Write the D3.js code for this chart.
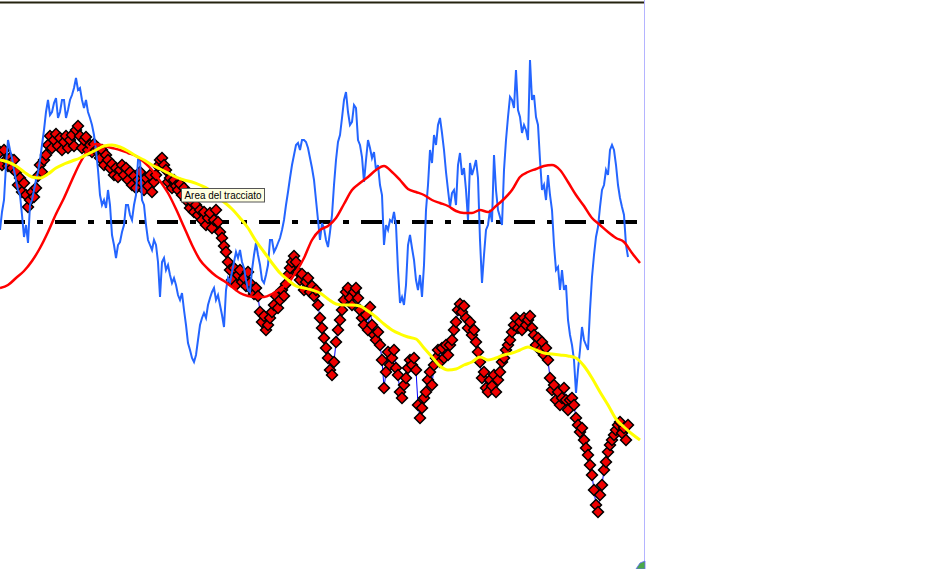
<!DOCTYPE html>
<html><head><meta charset="utf-8">
<script src="https://cdn.jsdelivr.net/npm/d3@7"></script>
<style>html,body{margin:0;padding:0;background:#fff;overflow:hidden}svg{display:block}</style>
</head><body>
<svg id="chart" width="935" height="569"></svg>
<script>
// ---- DATA (x in trading days) ----
const oscStep = 1;   // days between oscillator samples
const priceStep = 1; // days between price samples
const maStep = 4;    // days between moving-average samples
const oscRef = 0;    // oscillator reference level (dash-dot)

// oscillator (left axis units)
const oscillator = [-8,10,22,57,82,72,64,52,42,32,27,7,-15,-3,-21,17,22,32,42,50,62,77,92,110,122,107,110,119,124,104,110,122,122,104,112,122,127,134,144,132,134,122,114,122,110,104,97,87,72,52,27,17,22,14,32,17,-13,-23,-36,-23,-20,-10,-3,17,17,7,2,17,27,62,62,22,17,-3,-18,-23,-28,-18,-23,-40,-75,-40,-36,-48,-43,-53,-61,-56,-63,-73,-78,-71,-88,-103,-121,-128,-136,-140,-133,-118,-103,-96,-91,-96,-83,-76,-70,-66,-78,-73,-83,-93,-105,-68,-56,-60,-50,-40,-30,-36,-28,-40,-46,-58,-68,-70,-48,-33,-21,-33,-43,-58,-61,-53,-43,-18,-18,-30,-26,-21,-16,-8,2,17,30,44,57,67,77,79,72,82,82,80,74,64,54,42,22,2,-18,-1,-6,-18,-25,-10,7,37,62,80,87,104,122,130,110,97,100,117,114,82,77,65,40,62,82,74,64,70,52,57,37,27,-23,-3,-8,2,0,10,-3,-48,-81,-75,-83,-63,-23,-13,-26,-38,-58,-68,-53,-75,-43,12,37,72,59,87,77,97,104,89,72,50,32,15,29,32,17,57,69,47,54,32,2,59,47,54,62,44,-18,-61,-33,-8,-3,12,0,67,32,12,5,-3,52,82,105,125,122,114,152,112,105,89,97,92,82,162,122,127,105,97,62,32,37,22,47,27,12,-23,-48,-45,-68,-48,-68,-63,-98,-113,-123,-138,-171,-148,-128,-105,-118,-123,-128,-88,-55,-33,-15,-5,15,32,37,52,47,72,77,72,57,37,24,15,7,-23,-35];

// oscillator moving average
const oscillatorMA = [-66,-63,-56,-49,-39,-26,-10,8,24,42,59,72,78,76,74,72,69,66,60,52,41,29,13,-5,-23,-38,-47,-54,-59,-65,-71,-74,-75,-75,-72,-67,-61,-50,-36,-18,-8,-4,4,18,32,39,45,52,56,50,42,33,30,27,22,19,16,11,9,9,12,10,16,23,32,45,50,53,56,57,52,40,27,16,4,-3,-10,-16,-20,-31,-41];

// price, as drawdown below reference high (right axis, inverted)
const drawdown = [52,65,50,60,66,58,68,60,72,85,78,92,83,95,107,100,92,97,88,76,65,72,60,55,45,36,48,40,34,46,38,50,42,36,48,40,35,46,30,26,36,48,40,37,50,45,52,44,50,48,58,50,65,55,60,68,64,75,68,77,70,65,75,68,80,72,85,76,88,80,72,83,90,78,86,75,92,82,75,66,60,58,65,70,82,78,88,80,86,90,84,95,88,100,93,108,102,112,105,115,110,120,112,125,118,113,128,120,110,122,132,138,146,152,162,170,180,168,185,175,170,182,178,186,172,183,190,194,188,196,212,222,216,230,225,218,212,205,196,208,200,190,196,184,175,168,162,156,162,172,180,174,190,182,178,192,186,196,190,205,218,228,238,248,258,270,275,262,242,230,220,210,200,192,188,198,205,192,188,198,210,218,225,215,230,207,225,235,240,232,245,260,288,272,252,265,258,250,268,275,292,298,285,278,268,260,265,258,270,305,318,308,298,292,280,272,285,265,258,250,262,248,258,245,255,245,240,230,222,210,204,212,206,218,228,222,235,230,242,252,262,278,272,288,292,280,286,275,292,280,272,262,258,250,245,240,232,225,218,228,222,230,218,225,220,216,228,235,245,238,250,242,255,248,260,278,290,285,300,292,305,298,288,300,310,300,298,305,318,325,332,328,340,348,355,365,375,390,405,412,395,385,370,362,352,345,340,335,330,325,322,333,328,340,325];

// price moving average (same units)
const drawdownMA = [60,62,66,72,77,78,74,68,64,61,58,54,50,46,45,47,51,56,60,65,69,73,77,80,82,85,89,96,102,109,118,128,141,152,163,173,180,186,188,190,193,199,204,205,205,206,211,217,224,230,234,237,239,248,257,266,270,269,265,262,257,260,258,255,253,250,247,250,253,254,255,256,258,266,278,292,305,319,327,334,340];

const tooltipText = "Area del tracciato";

// ---- SCALES ----
const svg = d3.select("#chart");
const x = d3.scaleLinear().domain([0, 320]).range([0, 640]);
const yOsc = d3.scaleLinear().domain([222, -347]).range([0, 569]);
const yPrice = d3.scaleLinear().domain([-100, 469]).range([0, 569]);

svg.append("rect").attr("width", 935).attr("height", 569).attr("fill", "#fff");

// reference line (dash-dot)
svg.append("line")
  .attr("x1", x(2)).attr("x2", x(319))
  .attr("y1", yOsc(oscRef)).attr("y2", yOsc(oscRef))
  .attr("stroke", "#000").attr("stroke-width", 4)
  .attr("stroke-dasharray", "21,12,6,12");

// price series: thin line + diamonds
const priceLine = d3.line().x((d, i) => x(i * priceStep)).y(d => yPrice(d));
svg.append("path").datum(drawdown).attr("d", priceLine)
  .attr("fill", "none").attr("stroke", "#0000ff").attr("stroke-width", 1);
const diamond = d3.symbol(d3.symbolSquare, 60);
svg.append("g").selectAll("path").data(drawdown).join("path")
  .attr("d", diamond)
  .attr("transform", (d, i) => `translate(${x(i * priceStep)},${yPrice(d)}) rotate(45)`)
  .attr("fill", "#f00000").attr("stroke", "#000").attr("stroke-width", 1.5);

// oscillator
const oscLine = d3.line().x((d, i) => x(i * oscStep)).y(d => yOsc(d));
svg.append("path").datum(oscillator).attr("d", oscLine)
  .attr("fill", "none").attr("stroke", "#2465ff").attr("stroke-width", 2);

// oscillator moving average
const oscMALine = d3.line().curve(d3.curveMonotoneX).x((d, i) => x(i * maStep)).y(d => yOsc(d));
svg.append("path").datum(oscillatorMA).attr("d", oscMALine)
  .attr("fill", "none").attr("stroke", "#ff0000").attr("stroke-width", 2.5);

// price moving average
const priceMALine = d3.line().curve(d3.curveMonotoneX).x((d, i) => x(i * maStep)).y(d => yPrice(d));
svg.append("path").datum(drawdownMA).attr("d", priceMALine)
  .attr("fill", "none").attr("stroke", "#ffff00").attr("stroke-width", 3);

// frame: top border and right border
svg.append("rect").attr("x", 0).attr("y", 1.5).attr("width", 645).attr("height", 2).attr("fill", "#24220f");
svg.append("line").attr("x1", 644.5).attr("x2", 644.5).attr("y1", 0).attr("y2", 569)
  .attr("stroke", "#b4b4ff").attr("stroke-width", 1);
svg.append("path").attr("d", "M636,569 L640,563 L645,561 L645,569 Z").attr("fill", "#4aa84a").attr("stroke", "#6a6aff").attr("stroke-width", 0.8);

// tooltip
const tip = svg.append("g").attr("transform", "translate(181.5,188.5)");
tip.append("rect").attr("width", 83).attr("height", 13.5).attr("fill", "#ffffe1").attr("stroke", "#555").attr("stroke-width", 1);
tip.append("text").attr("x", 3).attr("y", 10.8).text(tooltipText)
  .attr("font-family", "Liberation Sans, Arial, sans-serif").attr("font-size", 11)
  .attr("textLength", 77).attr("lengthAdjust", "spacingAndGlyphs").attr("fill", "#000");
</script>
</body></html>
